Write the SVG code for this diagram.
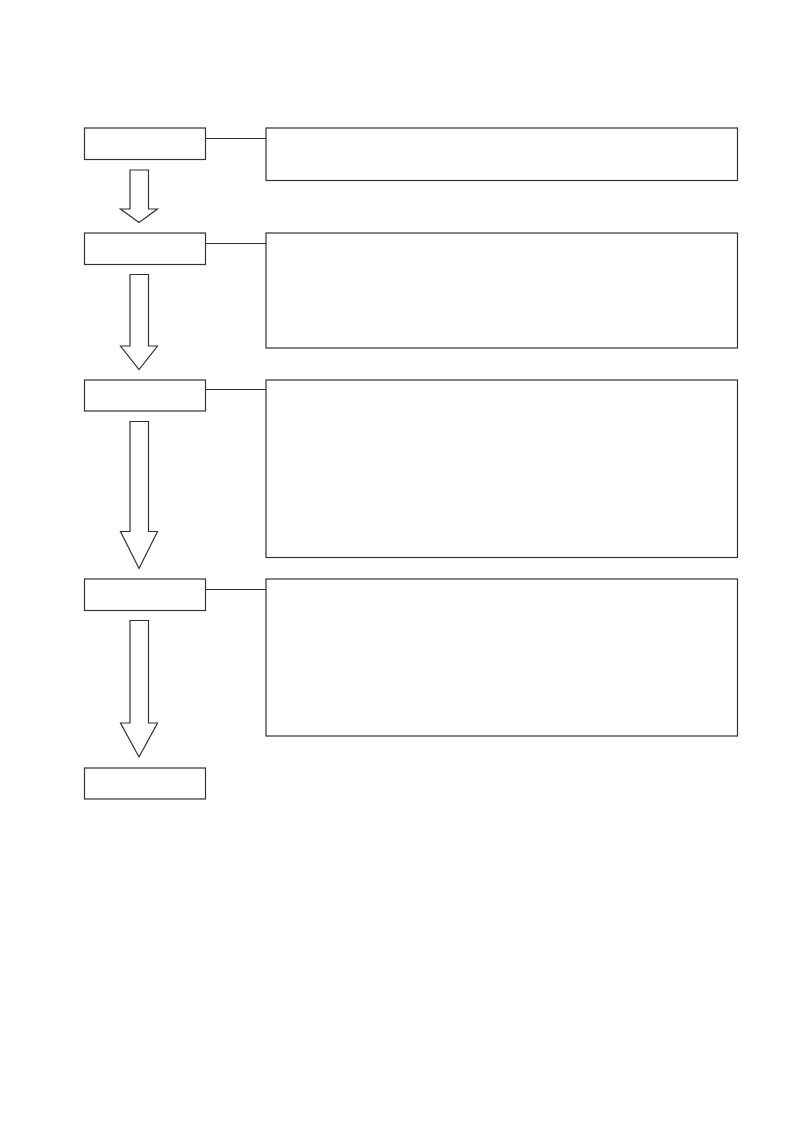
<svg xmlns="http://www.w3.org/2000/svg" width="800" height="1132" viewBox="0 0 800 1132">
<style>
.b{fill:#fff;stroke:#333;stroke-width:1.2}
.c{fill:none;stroke:#333;stroke-width:1.2}
</style>
<rect width="800" height="1132" fill="#fff"/>
<g id="connectors">
<line class="c" x1="205.5" y1="138.5" x2="266" y2="138.5"/>
<line class="c" x1="205.5" y1="243.5" x2="266" y2="243.5"/>
<line class="c" x1="205.5" y1="389.5" x2="266" y2="389.5"/>
<line class="c" x1="205.5" y1="589.5" x2="266" y2="589.5"/>
<polygon class="b" points="130,170 148.5,170 148.5,209 157.5,209 139,222.5 120.5,209 130,209"/>
<polygon class="b" points="130,274.5 148.5,274.5 148.5,346 157.5,346 139,369.5 120.5,346 130,346"/>
<polygon class="b" points="130,421.5 148.5,421.5 148.5,531.5 157.5,531.5 139,568.5 120.5,531.5 130,531.5"/>
<polygon class="b" points="130,620.5 148.5,620.5 148.5,723 157.5,723 139,757 120.5,723 130,723"/>
</g>
<g id="step1"><rect class="b" x="84.5" y="128" width="121" height="31.5"/></g>
<g id="step2"><rect class="b" x="84.5" y="233" width="121" height="31.5"/></g>
<g id="step3"><rect class="b" x="84.5" y="380" width="121" height="31"/></g>
<g id="step4"><rect class="b" x="84.5" y="579" width="121" height="31.5"/></g>
<g id="step5"><rect class="b" x="84.5" y="768" width="121" height="31"/></g>
<g id="detail1"><rect class="b" x="266" y="128" width="471.5" height="52.5"/></g>
<g id="detail2"><rect class="b" x="266" y="233" width="471.5" height="115"/></g>
<g id="detail3"><rect class="b" x="266" y="380" width="471.5" height="177.5"/></g>
<g id="detail4"><rect class="b" x="266" y="579" width="471.5" height="157"/></g>
</svg>
